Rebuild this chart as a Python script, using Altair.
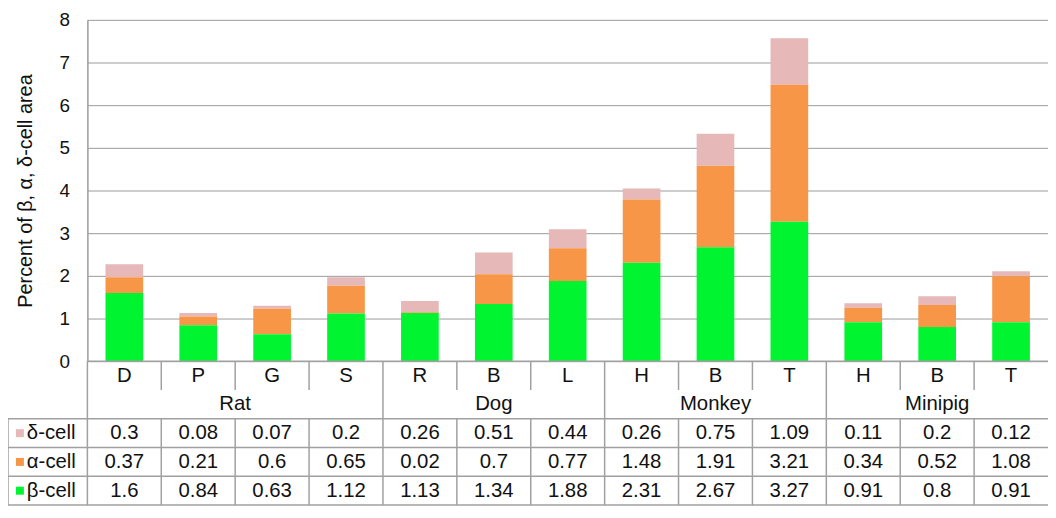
import altair as alt
import pandas as pd

# ---------------- data ----------------
species = ["Rat", "Rat", "Rat", "Rat", "Dog", "Dog", "Dog",
           "Monkey", "Monkey", "Monkey", "Minipig", "Minipig", "Minipig"]
regions = ["D", "P", "G", "S", "R", "B", "L", "H", "B", "T", "H", "B", "T"]
delta = [0.3, 0.08, 0.07, 0.2, 0.26, 0.51, 0.44, 0.26, 0.75, 1.09, 0.11, 0.2, 0.12]
alpha = [0.37, 0.21, 0.6, 0.65, 0.02, 0.7, 0.77, 1.48, 1.91, 3.21, 0.34, 0.52, 1.08]
beta = [1.6, 0.84, 0.63, 1.12, 1.13, 1.34, 1.88, 2.31, 2.67, 3.27, 0.91, 0.8, 0.91]
cells = ["δ-cell", "α-cell", "β-cell"]
y_ticks = [0, 1, 2, 3, 4, 5, 6, 7, 8]

# ---------------- style ----------------
W, H = 968, 344
BOTTOM = 146
TABLE_H = 145
FONT = "Liberation Sans"
GRID = "#9a9a9a"
LINE = "#a0a0a0"
COLORS = ["#e6b9b8", "#f79646", "#00f530"]

n = len(regions)
ids = [f"c{i}" for i in range(n)]
series = {"δ-cell": delta, "α-cell": alpha, "β-cell": beta}
stack_order = {"β-cell": 0, "α-cell": 1, "δ-cell": 2}

bar_rows = []
for i in range(n):
    for c in cells:
        bar_rows.append({"col": ids[i], "cell": c, "value": series[c][i],
                         "order": stack_order[c]})
bars_df = pd.DataFrame(bar_rows)

color_scale = alt.Scale(domain=cells, range=COLORS)

bars = alt.Chart(bars_df).mark_bar(width=alt.RelativeBandSize(0.51)).encode(
    x=alt.X("col:N", sort=ids,
            scale=alt.Scale(domain=ids, paddingInner=0, paddingOuter=0),
            axis=None),
    y=alt.Y("value:Q", stack="zero",
            scale=alt.Scale(domain=[0, 8], nice=False, zero=True),
            title="Percent of β, α, δ-cell area",
            axis=alt.Axis(values=y_ticks, grid=True, gridColor=GRID, gridWidth=1,
                          domain=True, domainColor=GRID, domainWidth=1.5,
                          ticks=False, labelPadding=18, labelFont=FONT,
                          labelFontSize=19, labelColor="#111",
                          titleFont=FONT, titleFontSize=20,
                          titleFontWeight="normal", titleColor="#111",
                          titlePadding=24)),
    color=alt.Color("cell:N", scale=color_scale, legend=None),
    order=alt.Order("order:Q"),
)

# ---------------- table structure ----------------
group_names = []
group_start = []
for i, s in enumerate(species):
    if not group_names or group_names[-1] != s:
        group_names.append(s)
        group_start.append(i)
group_end = group_start[1:] + [n]

vlines = []
for b in range(n):
    if b in group_start:
        vlines.append({"x": b, "y": 0, "y2": 5})
    else:
        vlines.append({"x": b, "y": 0, "y2": 1})
        vlines.append({"x": b, "y": 2, "y2": 5})
vlines.append({"x": -1, "y": 2, "y2": 5})
vdf = pd.DataFrame(vlines)

hlines = [{"x": 0, "x2": n, "y": 0}] + [{"x": -1, "x2": n, "y": r} for r in (2, 3, 4, 5)]
hdf = pd.DataFrame(hlines)

texts = []
for i in range(n):
    texts.append({"x": i + 0.5, "y": 0.5, "t": regions[i]})
    for r, c in enumerate(cells):
        texts.append({"x": i + 0.5, "y": 2.5 + r, "t": str(series[c][i])})
for g, s0, s1 in zip(group_names, group_start, group_end):
    texts.append({"x": (s0 + s1) / 2, "y": 1.5, "t": g})
tdf = pd.DataFrame(texts)

ldf = pd.DataFrame({"x": [-1] * 3, "y": [2.5, 3.5, 4.5], "cell": cells})

xs = alt.Scale(domain=[-1, 0, n], range=[-80, 0, W])
ys = alt.Scale(domain=[0, 5], range=[H, H + TABLE_H])

vrule = alt.Chart(vdf).mark_rule(color=LINE, strokeWidth=1.5).encode(
    x=alt.X("x:Q", scale=xs, axis=None),
    y=alt.Y("y:Q", scale=ys, axis=None),
    y2="y2:Q",
)
hrule = alt.Chart(hdf).mark_rule(color=LINE, strokeWidth=1.5).encode(
    x=alt.X("x:Q", scale=xs, axis=None),
    x2="x2:Q",
    y=alt.Y("y:Q", scale=ys, axis=None),
)
cell_text = alt.Chart(tdf).mark_text(font=FONT, fontSize=20.5, color="#111",
                                     align="center", baseline="middle").encode(
    x=alt.X("x:Q", scale=xs, axis=None),
    y=alt.Y("y:Q", scale=ys, axis=None),
    text="t:N",
)
squares = alt.Chart(ldf).mark_square(size=64, opacity=1, filled=True).encode(
    x=alt.X("x:Q", scale=xs, axis=None),
    y=alt.Y("y:Q", scale=ys, axis=None),
    xOffset=alt.value(12),
    color=alt.Color("cell:N", scale=color_scale, legend=None),
)
labels = alt.Chart(ldf).mark_text(font=FONT, fontSize=20.5, color="#111",
                                  align="left", baseline="middle").encode(
    x=alt.X("x:Q", scale=xs, axis=None),
    y=alt.Y("y:Q", scale=ys, axis=None),
    xOffset=alt.value(19),
    text="cell:N",
)

table = alt.layer(vrule, hrule, cell_text, squares, labels)

chart = alt.layer(bars, table).resolve_scale(
    x="independent", y="independent"
).properties(
    width=W, height=H,
    autosize=alt.AutoSizeParams(type="none"),
    padding={"left": 80, "top": 10, "right": 0, "bottom": BOTTOM},
    background="white",
).configure_view(stroke=None)

chart.save("out.html", embed_options={"renderer": "svg", "actions": False})
